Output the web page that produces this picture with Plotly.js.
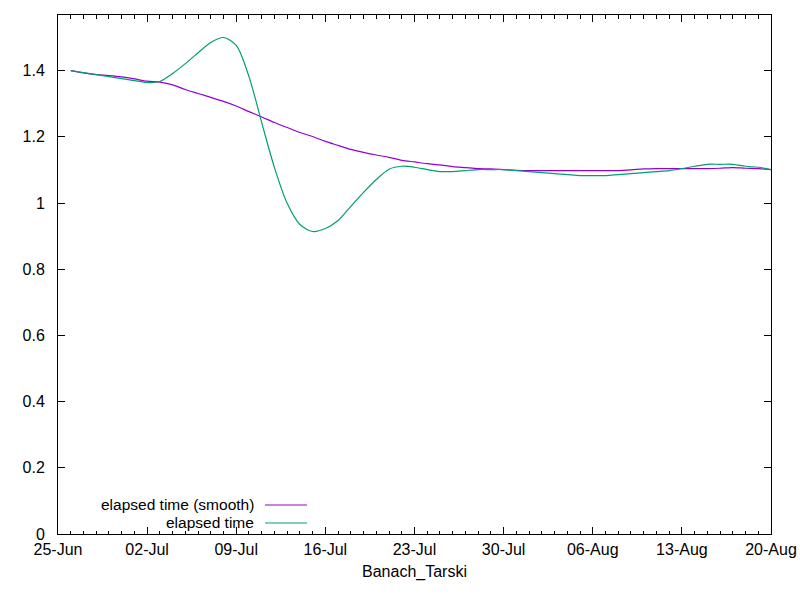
<!DOCTYPE html>
<html>
<head>
<meta charset="utf-8">
<script src="https://cdn.plot.ly/plotly-3.0.1.min.js"></script>
<style>
  html, body { margin: 0; padding: 0; background: #fff; }
  #chart { width: 800px; height: 600px; }
</style>
</head>
<body>
<div id="chart"></div>
<script>
  'use strict';

  // one sample per day, 26-Jun .. 20-Aug
  var days = [
    '2018-06-26', '2018-06-27', '2018-06-28', '2018-06-29', '2018-06-30',
    '2018-07-01', '2018-07-02', '2018-07-03', '2018-07-04', '2018-07-05',
    '2018-07-06', '2018-07-07', '2018-07-08', '2018-07-09', '2018-07-10',
    '2018-07-11', '2018-07-12', '2018-07-13', '2018-07-14', '2018-07-15',
    '2018-07-16', '2018-07-17', '2018-07-18', '2018-07-19', '2018-07-20',
    '2018-07-21', '2018-07-22', '2018-07-23', '2018-07-24', '2018-07-25',
    '2018-07-26', '2018-07-27', '2018-07-28', '2018-07-29', '2018-07-30',
    '2018-07-31', '2018-08-01', '2018-08-02', '2018-08-03', '2018-08-04',
    '2018-08-05', '2018-08-06', '2018-08-07', '2018-08-08', '2018-08-09',
    '2018-08-10', '2018-08-11', '2018-08-12', '2018-08-13', '2018-08-14',
    '2018-08-15', '2018-08-16', '2018-08-17', '2018-08-18', '2018-08-19',
    '2018-08-20'
  ];

  var elapsedSmooth = [
    1.400, 1.393, 1.388, 1.385, 1.381, 1.375, 1.368, 1.365, 1.357, 1.343,
    1.331, 1.319, 1.307, 1.293, 1.276, 1.260, 1.243, 1.228, 1.213, 1.201,
    1.186, 1.174, 1.162, 1.153, 1.145, 1.138, 1.129, 1.124, 1.119, 1.115,
    1.110, 1.107, 1.104, 1.103, 1.101, 1.099, 1.098, 1.098, 1.098, 1.098,
    1.098, 1.098, 1.098, 1.098, 1.100, 1.103, 1.104, 1.104, 1.104, 1.104,
    1.104, 1.105, 1.107, 1.105, 1.104, 1.101
  ];

  var elapsed = [
    1.400, 1.394, 1.388, 1.382, 1.376, 1.370, 1.364, 1.367, 1.391, 1.421,
    1.454, 1.485, 1.500, 1.476, 1.382, 1.243, 1.107, 0.999, 0.935, 0.914,
    0.923, 0.947, 0.990, 1.032, 1.071, 1.102, 1.111, 1.108, 1.101, 1.095,
    1.095, 1.098, 1.101, 1.101, 1.101, 1.098, 1.095, 1.092, 1.089, 1.086,
    1.083, 1.083, 1.083, 1.086, 1.089, 1.092, 1.095, 1.098, 1.104, 1.111,
    1.117, 1.117, 1.117, 1.111, 1.108, 1.101
  ];

  var xTickVals = [
    '2018-06-25', '2018-07-02', '2018-07-09', '2018-07-16', '2018-07-23',
    '2018-07-30', '2018-08-06', '2018-08-13', '2018-08-20'
  ];
  var xTickText = [
    '25-Jun', '02-Jul', '09-Jul', '16-Jul', '23-Jul',
    '30-Jul', '06-Aug', '13-Aug', '20-Aug'
  ];

  var yTickVals = [0, 0.2, 0.4, 0.6, 0.8, 1, 1.2, 1.4];
  var yTickText = ['0', '0.2', '0.4', '0.6', '0.8', '1', '1.2', '1.4'];

  var seriesNames = ['elapsed time (smooth)', 'elapsed time'];
  var seriesColors = ['#9400d3', '#009e73'];

  var FONT = { family: 'Liberation Sans, Arial, sans-serif', size: 16, color: '#000' };
  var KEY_FONT = { family: 'Liberation Sans, Arial, sans-serif', size: 15.5, color: '#000' };

  var traces = [elapsedSmooth, elapsed].map(function (vals, i) {
    return {
      type: 'scatter',
      mode: 'lines',
      x: days,
      y: vals,
      name: seriesNames[i],
      line: { color: seriesColors[i], width: 1.2, shape: 'spline', smoothing: 0.8 },
      showlegend: false
    };
  });

  // gnuplot-style key: text right-aligned, sample line to its right
  var keyTextX = 0.2776;
  var keyLine = [0.2903, 0.3492];
  var keyRows = [0.0559, 0.0212];

  var annotations = seriesNames.map(function (name, i) {
    return {
      xref: 'paper', yref: 'paper',
      x: keyTextX, y: keyRows[i],
      xanchor: 'right', yanchor: 'middle',
      text: name, showarrow: false,
      font: KEY_FONT
    };
  });

  var shapes = seriesNames.map(function (name, i) {
    return {
      type: 'line', xref: 'paper', yref: 'paper',
      x0: keyLine[0], x1: keyLine[1], y0: keyRows[i], y1: keyRows[i],
      line: { color: seriesColors[i], width: 1.2 }
    };
  });

  var layout = {
    width: 800,
    height: 600,
    paper_bgcolor: '#fff',
    plot_bgcolor: '#fff',
    font: FONT,
    margin: { l: 58, r: 29, t: 15, b: 66 },
    xaxis: {
      type: 'date',
      range: ['2018-06-25', '2018-08-20'],
      tickmode: 'array',
      tickvals: xTickVals,
      ticktext: xTickText,
      ticks: 'inside',
      ticklen: 7,
      tickwidth: 1,
      tickcolor: '#000',
      minor: { dtick: 86400000, ticks: 'inside', ticklen: 3.5, tickwidth: 1, tickcolor: '#000', showgrid: false },
      showgrid: false,
      zeroline: false,
      showline: true,
      linecolor: '#000',
      linewidth: 1,
      mirror: 'ticks',
      ticklabelstandoff: 1,
      title: { text: 'Banach_Tarski', font: FONT, standoff: 8 }
    },
    yaxis: {
      range: [0, 1.568],
      tickmode: 'array',
      tickvals: yTickVals,
      ticktext: yTickText,
      ticks: 'inside',
      ticklen: 7,
      tickwidth: 1,
      tickcolor: '#000',
      showgrid: false,
      zeroline: false,
      showline: true,
      linecolor: '#000',
      linewidth: 1,
      mirror: 'ticks',
      ticklabelstandoff: 9
    },
    annotations: annotations,
    shapes: shapes
  };

  Plotly.newPlot('chart', traces, layout, { displayModeBar: false, staticPlot: true });
</script>
</body>
</html>
